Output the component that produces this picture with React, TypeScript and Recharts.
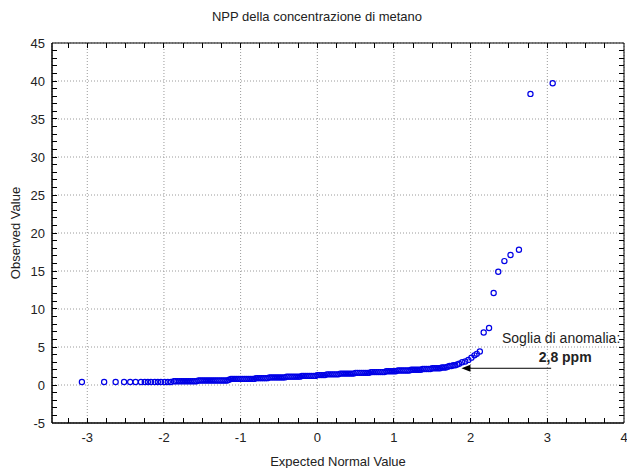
import React from 'react';
import { ScatterChart, Scatter, XAxis, YAxis, CartesianGrid, ReferenceLine, ReferenceArea } from 'recharts';

// Expected normal values (x) and observed methane concentrations in ppm (y)
const expectedNormal = [
  // lower tail
  -3.07, -2.78, -2.63, -2.52, -2.44, -2.37, -2.30, -2.25, -2.21, -2.17, -2.12, -2.08, -2.04, -1.99, -1.95, -1.91, -1.87,
  // 0.5
  -1.85, -1.825, -1.8, -1.775, -1.75, -1.725, -1.7, -1.675, -1.65, -1.625, -1.6, -1.575,
  // 0.6
  -1.55, -1.525, -1.5, -1.475, -1.45, -1.425, -1.4, -1.375, -1.35, -1.325, -1.3, -1.275, -1.25, -1.225, -1.2, -1.175,
  // 0.7
  -1.15,
  // 0.8
  -1.125, -1.1, -1.075, -1.05, -1.025, -1, -0.975, -0.95, -0.925, -0.9, -0.875, -0.85, -0.825,
  // 0.9
  -0.8, -0.775, -0.75, -0.725, -0.7, -0.675, -0.65,
  // 1.0
  -0.625, -0.6, -0.575, -0.55, -0.525, -0.5, -0.475, -0.45, -0.425,
  // 1.1
  -0.4, -0.375, -0.35, -0.325, -0.3, -0.275, -0.25, -0.225,
  // 1.2
  -0.2, -0.175, -0.15, -0.125, -0.1, -0.075, -0.05, -0.025,
  // 1.3
  0, 0.025, 0.05, 0.075, 0.1,
  // 1.4
  0.125, 0.15, 0.175, 0.2, 0.225, 0.25, 0.275,
  // 1.5
  0.3, 0.325, 0.35, 0.375, 0.4, 0.425, 0.45, 0.475,
  // 1.6
  0.5, 0.525, 0.55, 0.575, 0.6, 0.625, 0.65, 0.675,
  // 1.7
  0.7, 0.725, 0.75, 0.775, 0.8, 0.825, 0.85, 0.875,
  // 1.8
  0.9, 0.925, 0.95, 0.975, 1, 1.025,
  // 1.9
  1.05, 1.075, 1.1, 1.125, 1.15, 1.175, 1.2,
  // 2.0
  1.225, 1.25, 1.275, 1.3, 1.325, 1.35,
  // 2.1
  1.375, 1.4, 1.425, 1.45, 1.475,
  // 2.2
  1.5, 1.525, 1.55, 1.575, 1.6,
  // 2.3
  1.625, 1.65, 1.675,
  // 2.4 - 2.7
  1.7, 1.725, 1.75, 1.775, 1.8, 1.825,
  // upper tail
  1.85, 1.89, 1.93, 1.97, 2.01, 2.05, 2.08, 2.12, 2.17, 2.24, 2.30, 2.36, 2.44, 2.52, 2.63, 2.78, 3.07,
];
const observedValue = [
  // lower tail
  0.4, 0.4, 0.4, 0.4, 0.4, 0.4, 0.4, 0.4, 0.4, 0.4, 0.4, 0.4, 0.4, 0.4, 0.4, 0.4, 0.5,
  // 0.5
  0.5, 0.5, 0.5, 0.5, 0.5, 0.5, 0.5, 0.5, 0.5, 0.5, 0.5, 0.5,
  // 0.6
  0.6, 0.6, 0.6, 0.6, 0.6, 0.6, 0.6, 0.6, 0.6, 0.6, 0.6, 0.6, 0.6, 0.6, 0.6, 0.6,
  // 0.7
  0.7,
  // 0.8
  0.8, 0.8, 0.8, 0.8, 0.8, 0.8, 0.8, 0.8, 0.8, 0.8, 0.8, 0.8, 0.8,
  // 0.9
  0.9, 0.9, 0.9, 0.9, 0.9, 0.9, 0.9,
  // 1.0
  1.0, 1.0, 1.0, 1.0, 1.0, 1.0, 1.0, 1.0, 1.0,
  // 1.1
  1.1, 1.1, 1.1, 1.1, 1.1, 1.1, 1.1, 1.1,
  // 1.2
  1.2, 1.2, 1.2, 1.2, 1.2, 1.2, 1.2, 1.2,
  // 1.3
  1.3, 1.3, 1.3, 1.3, 1.3,
  // 1.4
  1.4, 1.4, 1.4, 1.4, 1.4, 1.4, 1.4,
  // 1.5
  1.5, 1.5, 1.5, 1.5, 1.5, 1.5, 1.5, 1.5,
  // 1.6
  1.6, 1.6, 1.6, 1.6, 1.6, 1.6, 1.6, 1.6,
  // 1.7
  1.7, 1.7, 1.7, 1.7, 1.7, 1.7, 1.7, 1.7,
  // 1.8
  1.8, 1.8, 1.8, 1.8, 1.8, 1.8,
  // 1.9
  1.9, 1.9, 1.9, 1.9, 1.9, 1.9, 1.9,
  // 2.0
  2.0, 2.0, 2.0, 2.0, 2.0, 2.0,
  // 2.1
  2.1, 2.1, 2.1, 2.1, 2.1,
  // 2.2
  2.2, 2.2, 2.2, 2.2, 2.2,
  // 2.3
  2.3, 2.3, 2.3,
  // 2.4 - 2.7
  2.4, 2.5, 2.5, 2.6, 2.6, 2.7,
  // upper tail
  2.8, 3.0, 3.1, 3.3, 3.6, 3.9, 4.1, 4.4, 6.9, 7.5, 12.1, 14.9, 16.3, 17.1, 17.8, 38.3, 39.7,
];

const xMajorTicks = [-3, -2, -1, 0, 1, 2, 3, 4];
const yMajorTicks = [-5, 0, 5, 10, 15, 20, 25, 30, 35, 40, 45];
const xMinorTicks = [
  -3.25, -3, -2.75, -2.5, -2.25, -2, -1.75, -1.5, -1.25, -1, -0.75, -0.5, -0.25, 0,
  0.25, 0.5, 0.75, 1, 1.25, 1.5, 1.75, 2, 2.25, 2.5, 2.75, 3, 3.25, 3.5, 3.75,
];
const yMinorTicks = [
  -4, -3, -2, -1, 0, 1, 2, 3, 4, 5, 6, 7, 8, 9, 10, 11, 12, 13, 14, 15, 16, 17, 18, 19, 20, 21, 22,
  23, 24, 25, 26, 27, 28, 29, 30, 31, 32, 33, 34, 35, 36, 37, 38, 39, 40, 41, 42, 43, 44,
];
const xDomain = [-3.46, 4];
const yDomain = [-5, 45];

const titleText = 'NPP della concentrazione di metano';
const xTitle = 'Expected Normal Value';
const yTitle = 'Observed Value';
const annotationLabel = 'Soglia di anomalia:';
const annotationValue = '2,8 ppm';
const arrowStartX = 3.05;
const arrowEndX = 1.88;
const arrowY = 2.2;

const data = expectedNormal.map((x, i) => ({ x, y: observedValue[i] }));

const FONT = '"Liberation Sans", Arial, sans-serif';
const POINT_COLOR = '#0000e6';
const TICK_LEN = 5;

const Circle = (p: any) => (
  <circle cx={p.cx} cy={p.cy} r={2.6} fill="none" stroke={POINT_COLOR} strokeWidth={1.2} />
);

const crisp = (v: number) => Math.round(v - 0.5) + 0.5;

// inward tick marks on top and bottom borders
const XTickMark = (p: any) => {
  const top = Math.min(p.y1, p.y2);
  const bottom = Math.max(p.y1, p.y2);
  const x = crisp(p.x1);
  return (
    <g shapeRendering="crispEdges">
      <line x1={x} y1={top} x2={x} y2={top + TICK_LEN} stroke="#000" strokeWidth={1} />
      <line x1={x} y1={bottom} x2={x} y2={bottom - TICK_LEN} stroke="#000" strokeWidth={1} />
    </g>
  );
};

// inward tick marks on left and right borders
const YTickMark = (p: any) => {
  const left = Math.min(p.x1, p.x2);
  const right = Math.max(p.x1, p.x2);
  const y = crisp(p.y1);
  return (
    <g shapeRendering="crispEdges">
      <line x1={left} y1={y} x2={left + TICK_LEN} y2={y} stroke="#000" strokeWidth={1} />
      <line x1={right} y1={y} x2={right - TICK_LEN} y2={y} stroke="#000" strokeWidth={1} />
    </g>
  );
};

const ArrowShape = (p: any) => {
  const { x1, y1, x2, y2 } = p;
  return (
    <g>
      <line x1={x1} y1={y1} x2={x2 + 6} y2={y2} stroke="#000" strokeWidth={1} />
      <polygon points={`${x2},${y2} ${x2 + 9},${y2 - 3.5} ${x2 + 9},${y2 + 3.5}`} fill="#000" />
      <text x={x1 + 10} y={y1 - 25.5} textAnchor="middle" fontFamily={FONT} fontSize={14} fill="#222">
        {annotationLabel}
      </text>
      <text x={x1 + 14} y={y1 - 6} textAnchor="middle" fontFamily={FONT} fontSize={14} fontWeight="bold" fill="#222">
        {annotationValue}
      </text>
    </g>
  );
};

const tickStyle = { fill: '#222', fontSize: 13, fontFamily: FONT };

export default function App() {
  return (
    <div style={{ position: 'absolute', left: 0, top: 0, width: 627, height: 468, background: '#fff' }}>
      <ScatterChart width={627} height={468} margin={{ top: 43, right: 3, bottom: 0, left: 0 }}>
        <CartesianGrid xAxisId="b" yAxisId="l" stroke="#9a9a9a" strokeDasharray="1 2" />
        <XAxis
          xAxisId="b"
          type="number"
          dataKey="x"
          domain={xDomain}
          allowDataOverflow
          ticks={xMajorTicks}
          interval={0}
          height={45}
          tickLine={false}
          tickMargin={4}
          axisLine={{ stroke: '#000' }}
          tick={tickStyle}
        />
        <YAxis
          yAxisId="l"
          type="number"
          dataKey="y"
          domain={yDomain}
          allowDataOverflow
          ticks={yMajorTicks}
          interval={0}
          width={52}
          tickLine={false}
          tickMargin={1}
          axisLine={{ stroke: '#000' }}
          tick={tickStyle}
        />
        <ReferenceArea
          xAxisId="b"
          yAxisId="l"
          x1={xDomain[0]}
          x2={xDomain[1]}
          y1={yDomain[0]}
          y2={yDomain[1]}
          fill="none"
          fillOpacity={0}
          stroke="#000"
          strokeWidth={1}
          ifOverflow="visible"
        />
        {xMinorTicks.map((v) => (
          <ReferenceLine key={`xt${v}`} xAxisId="b" yAxisId="l" x={v} shape={XTickMark} />
        ))}
        {yMinorTicks.map((v) => (
          <ReferenceLine key={`yt${v}`} xAxisId="b" yAxisId="l" y={v} shape={YTickMark} />
        ))}
        <Scatter
          xAxisId="b"
          yAxisId="l"
          data={data}
          shape={Circle}
          isAnimationActive={false}
        />
        <ReferenceLine
          xAxisId="b"
          yAxisId="l"
          segment={[{ x: arrowStartX, y: arrowY }, { x: arrowEndX, y: arrowY }]}
          shape={ArrowShape}
        />
      </ScatterChart>
      <svg
        width={627}
        height={468}
        style={{ position: 'absolute', left: 0, top: 0, pointerEvents: 'none' }}
      >
        <text x={317} y={21} textAnchor="middle" fontFamily={FONT} fontSize={13} fill="#222">
          {titleText}
        </text>
        <text x={338} y={466} textAnchor="middle" fontFamily={FONT} fontSize={13} fill="#222">
          {xTitle}
        </text>
        <text
          x={20}
          y={233}
          transform="rotate(-90 20 233)"
          textAnchor="middle"
          fontFamily={FONT}
          fontSize={13}
          fill="#222"
        >
          {yTitle}
        </text>
      </svg>
    </div>
  );
}
